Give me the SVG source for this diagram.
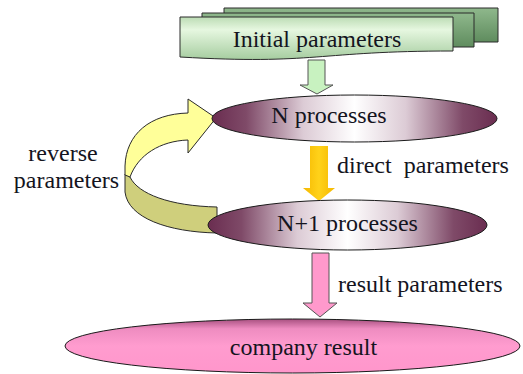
<svg xmlns="http://www.w3.org/2000/svg" width="523" height="374" viewBox="0 0 523 374">
<defs>
<linearGradient id="gBack" x1="0" y1="0" x2="0" y2="1">
<stop offset="0" stop-color="#8fb88c"/><stop offset="1" stop-color="#5f8c5e"/>
</linearGradient>
<linearGradient id="gFront" x1="0" y1="0" x2="0" y2="1">
<stop offset="0" stop-color="#bcdcb4"/><stop offset="0.3" stop-color="#e6f7e0"/><stop offset="1" stop-color="#a6cda0"/>
</linearGradient>
<linearGradient id="gProc" x1="0" y1="0" x2="1" y2="0">
<stop offset="0" stop-color="#6a2d50"/><stop offset="0.12" stop-color="#7f4a68"/><stop offset="0.32" stop-color="#dccbd5"/><stop offset="0.5" stop-color="#ffffff"/><stop offset="0.68" stop-color="#dccbd5"/><stop offset="0.88" stop-color="#7f4a68"/><stop offset="1" stop-color="#6a2d50"/>
</linearGradient>
<linearGradient id="gPink" x1="0" y1="0" x2="0" y2="1">
<stop offset="0" stop-color="#a85080"/><stop offset="0.18" stop-color="#ee8cc0"/><stop offset="0.5" stop-color="#ff9ccf"/><stop offset="1" stop-color="#ff96cb"/>
</linearGradient>
<linearGradient id="gYel" x1="0" y1="0" x2="1" y2="0">
<stop offset="0" stop-color="#f5b800"/><stop offset="0.5" stop-color="#ffd21a"/><stop offset="1" stop-color="#f5b800"/>
</linearGradient>
</defs>
<style>
text{font-family:"Liberation Serif","Times New Roman",serif;font-size:24px;fill:#14141e}
.doc{stroke:#2a2a2a;stroke-width:1}
.proc{fill:url(#gProc);stroke:#1a1a1a;stroke-width:1}
.c{text-anchor:middle}
</style>
<g id="initial-parameters">
<path class="doc" fill="url(#gBack)" d="M224,8 H498 V42 H224 Z"/>
<path class="doc" fill="url(#gBack)" d="M202,13 H474 V47 H202 Z"/>
<path class="doc" fill="url(#gFront)" d="M180,17 H453 V51 C316,51 316,65 180,57 Z"/>
<text class="c" x="317" y="47">Initial parameters</text>
</g>
<g id="connectors">
<path id="arrow-initial" d="M308,60 H325 V85 H333 L317,94 L300,85 H308 Z" fill="#c8f2c0" stroke="#555" stroke-width="1"/>
<g id="arrow-reverse" stroke="#2a2a2a" stroke-width="1" stroke-linejoin="round">
<path fill="#cfcf7c" d="M125,174 L130,177 C138,194 170,206 217,207 L217,233 C168,232 128,218 125,192 Z"/>
<path fill="#ffff99" d="M125,175 L125,166 C126,134 150,114 188,113 L188,99 L216,118 L188,153 L188,140 C160,141 138,155 130,177 Z"/>
</g>
<path id="arrow-direct" d="M310,146 H328 V188 H335 L319,201 L303,188 H310 Z" fill="url(#gYel)"/>
<path id="arrow-result" d="M312,253 H329 V303 H337 L320,317 L303,303 H312 Z" fill="#ff99cc" stroke="#555" stroke-width="1"/>
</g>
<g id="n-processes">
<ellipse class="proc" cx="354.5" cy="118.5" rx="142.5" ry="23.5"/>
<text class="c" x="329" y="123">N processes</text>
</g>
<g id="n1-processes">
<ellipse class="proc" cx="347.5" cy="225" rx="139.5" ry="25"/>
<text class="c" x="347.5" y="231">N+1 processes</text>
</g>
<g id="company-result">
<ellipse cx="292.5" cy="346" rx="227.5" ry="27" fill="url(#gPink)" stroke="#1a1a1a" stroke-width="1"/>
<text class="c" x="303.5" y="355">company result</text>
</g>
<g id="labels">
<text class="c" x="63" y="161">reverse</text>
<text class="c" x="66.5" y="188">parameters</text>
<text x="337" y="173">direct&#160; parameters</text>
<text x="338" y="292">result parameters</text>
</g>
</svg>
